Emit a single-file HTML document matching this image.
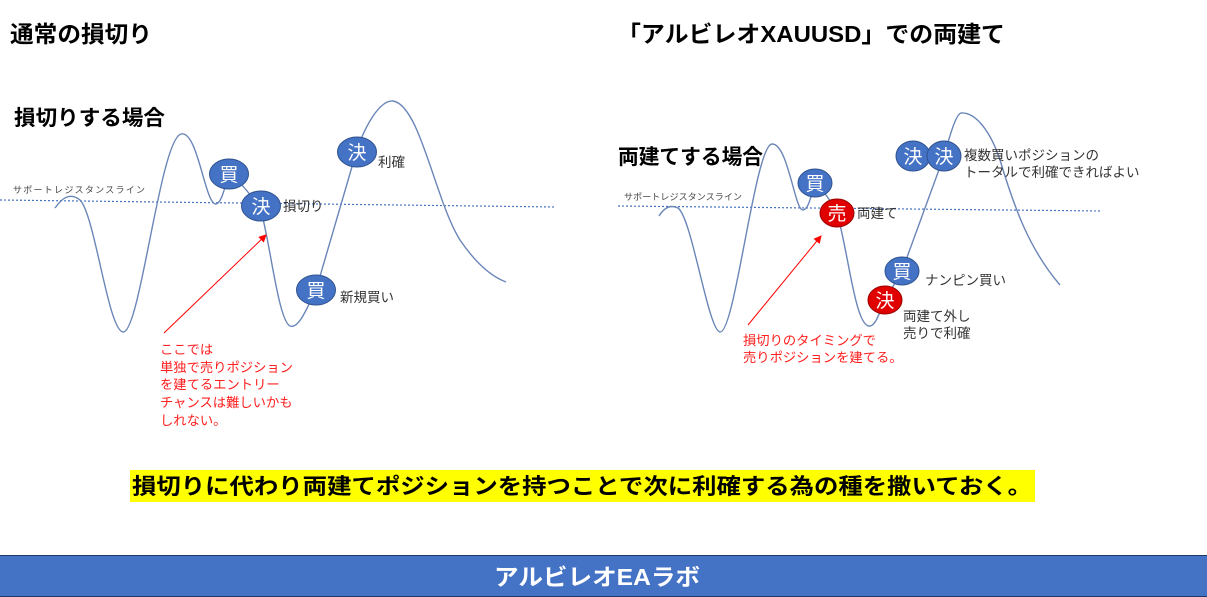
<!DOCTYPE html>
<html><head><meta charset="utf-8"><style>
html,body{margin:0;padding:0;background:#fff;}
svg{display:block;font-family:"Liberation Sans","Noto Sans CJK JP",sans-serif;}
</style></head><body>
<svg width="1207" height="597" viewBox="0 0 1207 597" xmlns="http://www.w3.org/2000/svg">
<defs><marker id="ar" markerWidth="8" markerHeight="8" refX="7" refY="4" orient="auto" markerUnits="userSpaceOnUse"><path d="M0,0 L8,4 L0,8 z" fill="#ff0000"/></marker></defs>
<rect width="1207" height="597" fill="#fff"/>
<text x="10" y="42" font-size="23" font-weight="bold" fill="#000" textLength="142" lengthAdjust="spacingAndGlyphs">通常の損切り</text>
<text x="617" y="42" font-size="23" font-weight="bold" fill="#000" textLength="388" lengthAdjust="spacingAndGlyphs">「アルビレオXAUUSD」での両建て</text>

<!-- LEFT -->
<text x="14" y="125" font-size="21" font-weight="bold" fill="#000" textLength="151" lengthAdjust="spacingAndGlyphs">損切りする場合</text>
<text x="13" y="193" font-size="9" fill="#444" textLength="132">サポートレジスタンスライン</text>
<line x1="0" y1="200" x2="556" y2="207" stroke="#4472c4" stroke-width="1.2" stroke-dasharray="2,2"/>
<path d="M55,208 C62,198 70,192 80,200 C95,215 108,330 123,332 C140,334 160,140 181,134 C198,130 205,205 216,204 C222,203 225,185 229,175 C240,180 250,195 260,207 C270,240 278,320 290,326 C300,330 310,300 316,290 L356,153 C365,125 380,100 393,101 C420,105 435,200 460,240 C475,262 490,276 506,282" fill="none" stroke="#6a86b8" stroke-width="1.4"/>
<line x1="164" y1="333" x2="266" y2="235" stroke="#ff0000" stroke-width="1" marker-end="url(#ar)"/>
<g fill="#ff2020" font-size="13.3">
<text x="160" y="354">ここでは</text>
<text x="160" y="372">単独で売りポジション</text>
<text x="160" y="389">を建てるエントリー</text>
<text x="160" y="407">チャンスは難しいかも</text>
<text x="160" y="425">しれない。</text>
</g>
<g stroke="#2f528f" stroke-width="1">
<ellipse cx="229" cy="174" rx="19.5" ry="15" fill="#4472c4"/>
<ellipse cx="261" cy="206" rx="19.5" ry="15" fill="#4472c4"/>
<ellipse cx="316" cy="290" rx="19.5" ry="15" fill="#4472c4"/>
<ellipse cx="357" cy="152" rx="19.5" ry="15" fill="#4472c4"/>
</g>
<g fill="#fff" font-size="19" text-anchor="middle">
<text x="229" y="181">買</text><text x="261" y="213">決</text><text x="316" y="297">買</text><text x="357" y="159">決</text>
</g>
<g fill="#333" font-size="13.5">
<text x="283" y="211">損切り</text><text x="378" y="167">利確</text><text x="340" y="302">新規買い</text>
</g>

<!-- RIGHT -->
<text x="618" y="164" font-size="21" font-weight="bold" fill="#000" textLength="145" lengthAdjust="spacingAndGlyphs">両建てする場合</text>
<text x="624" y="200" font-size="9" fill="#444" textLength="118">サポートレジスタンスライン</text>
<line x1="618" y1="206" x2="1102" y2="211" stroke="#4472c4" stroke-width="1.2" stroke-dasharray="2,2"/>
<path d="M659,216 C664,208 670,204 678,208 C692,218 708,330 720,332 C735,334 755,145 772,144 C788,143 795,212 803,210 C809,209 811,195 815,183 C825,192 832,203 837,213 C848,250 855,325 869,326 C876,327 880,310 885,300 L902,271 L944,156 C950,135 956,114 961,113 C975,112 990,130 1000,160 C1015,210 1030,250 1060,285" fill="none" stroke="#6a86b8" stroke-width="1.4"/>
<line x1="748" y1="325" x2="821" y2="236" stroke="#ff0000" stroke-width="1" marker-end="url(#ar)"/>
<g fill="#ff2020" font-size="13.3">
<text x="743" y="345">損切りのタイミングで</text>
<text x="743" y="362">売りポジションを建てる。</text>
</g>
<g stroke-width="1">
<ellipse cx="913" cy="156" rx="17" ry="15" fill="#4472c4" stroke="#2f528f"/>
<ellipse cx="944" cy="156" rx="17" ry="15" fill="#4472c4" stroke="#2f528f"/>
<ellipse cx="815" cy="183" rx="17" ry="14" fill="#4472c4" stroke="#2f528f"/>
<ellipse cx="837" cy="213" rx="17" ry="14" fill="#e00000" stroke="#900"/>
<ellipse cx="902" cy="271" rx="17" ry="14" fill="#4472c4" stroke="#2f528f"/>
<ellipse cx="885" cy="300" rx="17" ry="14" fill="#e00000" stroke="#900"/>
</g>
<g fill="#fff" font-size="19" text-anchor="middle">
<text x="913" y="163">決</text><text x="944" y="163">決</text><text x="815" y="190">買</text><text x="837" y="220">売</text><text x="902" y="278">買</text><text x="885" y="307">決</text>
</g>
<g fill="#333" font-size="13.5">
<text x="964" y="160">複数買いポジションの</text>
<text x="964" y="177">トータルで利確できればよい</text>
<text x="857" y="218">両建て</text>
<text x="925" y="285">ナンピン買い</text>
<text x="903" y="321">両建て外し</text>
<text x="903" y="338">売りで利確</text>
</g>

<!-- banner -->
<rect x="130" y="470" width="905" height="32" fill="#ffff00"/>
<text x="132" y="494" font-size="22" font-weight="bold" fill="#000" textLength="900" lengthAdjust="spacingAndGlyphs">損切りに代わり両建てポジションを持つことで次に利確する為の種を撒いておく。</text>

<!-- footer -->
<rect x="0" y="555" width="1207" height="42" fill="#4472c4"/>
<line x1="0" y1="555.5" x2="1207" y2="555.5" stroke="#1f3864" stroke-width="1"/>
<line x1="0" y1="596.5" x2="1207" y2="596.5" stroke="#1f3864" stroke-width="1"/>
<text x="494" y="585" font-size="23" font-weight="bold" fill="#fff" textLength="206" lengthAdjust="spacingAndGlyphs">アルビレオEAラボ</text>
</svg>
</body></html>
